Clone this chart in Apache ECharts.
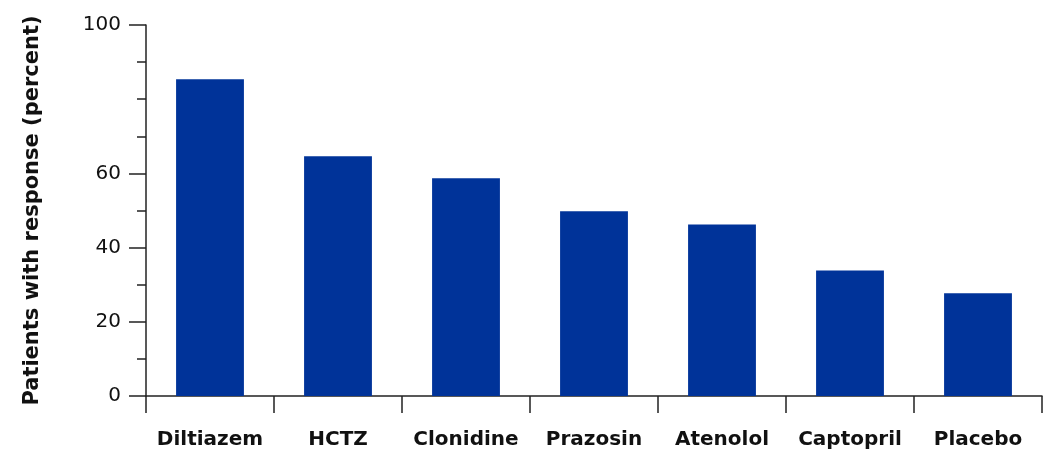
<!DOCTYPE html>
<html>
<head>
<meta charset="utf-8">
<script src="https://cdn.jsdelivr.net/npm/echarts@6/dist/echarts.min.js"></script>
<style>
  html, body { margin: 0; padding: 0; background: #fff; }
  #chart { width: 1059px; height: 453px; }
</style>
</head>
<body>
<div id="chart"></div>
<script>
const drugs = ['Diltiazem', 'HCTZ', 'Clonidine', 'Prazosin', 'Atenolol', 'Captopril', 'Placebo']
const responsePct = [85.4, 64.6, 58.7, 49.8, 46.2, 33.8, 27.7]
const yLabelValues = [0, 20, 40, 60, 100]

const chart = echarts.init(document.getElementById('chart'))

const axisFont = 'Verdana, "DejaVu Sans", sans-serif'

chart.setOption({
  backgroundColor: '#fff',
  animation: false,
  grid: { left: 146, right: 17, top: 25, bottom: 57 },
  xAxis: {
    type: 'category',
    data: drugs,
    axisLine: { lineStyle: { color: '#222', width: 1.5 } },
    axisTick: { show: true, interval: 0, length: 17, lineStyle: { color: '#222', width: 1.5 } },
    axisLabel: { interval: 0, margin: 34, fontSize: 20, fontWeight: 'bold', color: '#111', fontFamily: axisFont }
  },
  yAxis: [
    {
      type: 'value',
      min: 0,
      max: 100,
      interval: 10,
      name: 'Patients with response (percent)',
      nameLocation: 'middle',
      nameGap: 103,
      nameTextStyle: { fontSize: 21, fontWeight: 'bold', color: '#111', fontFamily: axisFont },
      axisLine: { show: true, lineStyle: { color: '#222', width: 1.5 } },
      axisTick: { show: true, length: 9, lineStyle: { color: '#222', width: 1.5 } },
      axisLabel: { show: false },
      splitLine: { show: false }
    },
    {
      type: 'value',
      min: 0,
      max: 100,
      position: 'left',
      axisLine: { show: false },
      axisTick: { show: true, length: 17, customValues: yLabelValues, lineStyle: { color: '#222', width: 1.5 } },
      axisLabel: { show: true, customValues: yLabelValues, margin: 25, fontSize: 20, color: '#111', fontFamily: axisFont },
      splitLine: { show: false }
    }
  ],
  series: [
    {
      type: 'bar',
      data: responsePct,
      barWidth: '53%',
      itemStyle: { color: '#003399' }
    }
  ]
})
</script>
</body>
</html>
